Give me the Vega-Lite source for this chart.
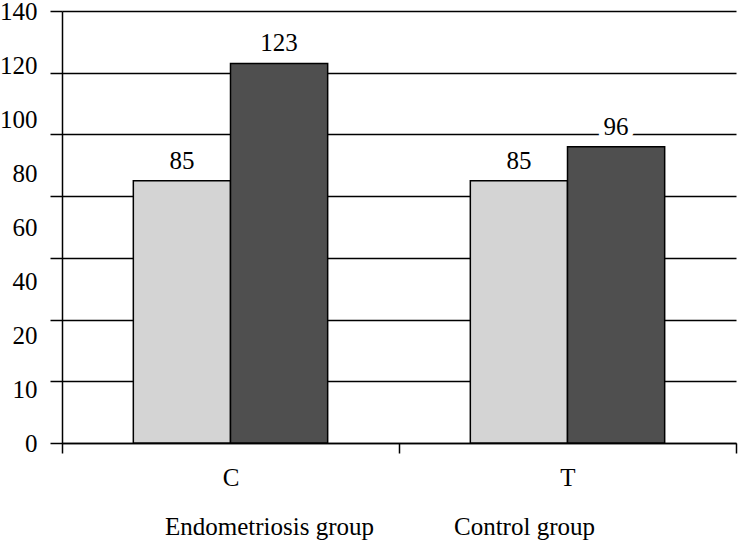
{
  "$schema": "https://vega.github.io/schema/vega-lite/v6.json",
  "width": 674,
  "height": 432,
  "autosize": "none",
  "padding": {"left": 62, "top": 11, "right": 4, "bottom": 107},
  "background": "white",
  "config": {
    "font": "Times New Roman, Liberation Serif, DejaVu Serif, serif",
    "view": {"stroke": null},
    "axis": {"labelFont": "Times New Roman, Liberation Serif, DejaVu Serif, serif"},
    "legend": {"labelFont": "Times New Roman, Liberation Serif, DejaVu Serif, serif"},
    "text": {"font": "Times New Roman, Liberation Serif, DejaVu Serif, serif"}
  },
  "data": {
    "values": [
      {"group": "C", "series": "Endometriosis group", "value": 85},
      {"group": "C", "series": "Control group", "value": 123},
      {"group": "T", "series": "Endometriosis group", "value": 85},
      {"group": "T", "series": "Control group", "value": 96}
    ]
  },
  "encoding": {
    "x": {
      "field": "group",
      "type": "nominal",
      "scale": {"paddingInner": 0, "paddingOuter": 0},
      "axis": {
        "title": null,
        "labelAngle": 0,
        "tickBand": "extent",
        "tickSize": 10,
        "tickColor": "black",
        "tickWidth": 1.5,
        "domainColor": "black",
        "domainWidth": 1.5,
        "labelFontSize": 25,
        "labelColor": "black",
        "labelPadding": 12,
        "grid": false
      }
    },
    "xOffset": {
      "field": "series",
      "sort": ["Endometriosis group", "Control group"],
      "scale": {"paddingInner": 0, "paddingOuter": 0.734}
    }
  },
  "layer": [
    {
      "mark": {"type": "bar", "stroke": "black", "strokeWidth": 1.5},
      "encoding": {
        "y": {
          "field": "value",
          "type": "quantitative",
          "scale": {"domain": [0, 140], "nice": false},
          "axis": {
            "orient": "left",
            "title": null,
            "values": [0, 20, 40, 60, 80, 100, 120, 140],
            "labels": false,
            "grid": true,
            "gridColor": "black",
            "gridWidth": 1.5,
            "gridOpacity": 1,
            "ticks": true,
            "tickSize": 12,
            "tickColor": "black",
            "tickWidth": 1.5,
            "domain": true,
            "domainColor": "black",
            "domainWidth": 1.5
          }
        },
        "color": {
          "field": "series",
          "type": "nominal",
          "scale": {"domain": ["Endometriosis group", "Control group"], "range": ["#d4d4d4", "#4f4f4f"]},
          "legend": {
            "orient": "none",
            "legendX": 78,
            "legendY": 503,
            "direction": "horizontal",
            "title": null,
            "labelFontSize": 25,
            "labelColor": "black",
            "symbolSize": 0,
            "symbolOpacity": 0,
            "symbolStrokeWidth": 0,
            "labelOffset": 0,
            "columnPadding": 54,
            "labelLimit": 400
          }
        }
      }
    },
    {
      "mark": {"type": "text", "fill": "white", "stroke": "white", "strokeWidth": 12, "fontSize": 25, "baseline": "alphabetic", "dy": -12},
      "encoding": {
        "y": {
          "field": "value",
          "type": "quantitative",
          "axis": {
            "orient": "left",
            "title": null,
            "values": [0, 17.5, 35, 52.5, 70, 87.5, 105, 122.5, 140],
            "labelExpr": "['0','10','20','40','60','80','100','120','140'][round(datum.value/17.5)]",
            "labelFontSize": 25,
            "labelColor": "black",
            "labelPadding": 25,
            "ticks": false,
            "tickSize": 0,
            "domain": false,
            "grid": false
          }
        },
        "text": {"field": "value", "type": "quantitative"}
      }
    },
    {
      "mark": {"type": "text", "fill": "black", "fontSize": 25, "baseline": "alphabetic", "dy": -12},
      "encoding": {
        "y": {"field": "value", "type": "quantitative", "axis": null},
        "text": {"field": "value", "type": "quantitative"}
      }
    }
  ],
  "resolve": {"axis": {"y": "independent"}}
}
